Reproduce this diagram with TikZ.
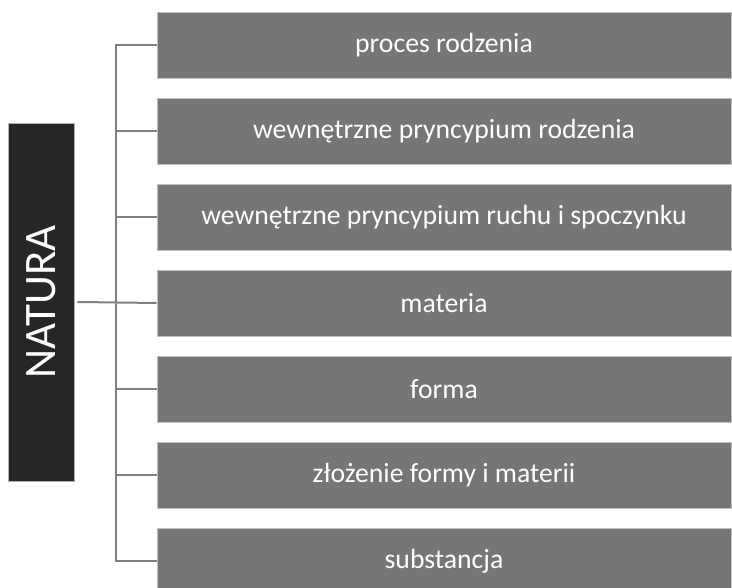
\documentclass[tikz,border=0pt]{standalone}
\usepackage{fontspec}
\setmainfont{Carlito}
\definecolor{boxgray}{HTML}{767676}
\definecolor{darkbox}{HTML}{262626}
\definecolor{linegray}{HTML}{808080}
\begin{document}
\begin{tikzpicture}[x=1pt,y=1pt,
  item/.style={fill=boxgray,draw=black!25,line width=0.6pt,minimum width=574pt,minimum height=66pt,inner sep=0pt,text=white,font=\fontsize{27.7}{30}\selectfont},
  root/.style={fill=darkbox,draw=black!30,line width=0.6pt,minimum width=358pt,minimum height=66pt,inner sep=0pt,text=white,font=\fontsize{45}{50}\selectfont,rotate=90},
  conn/.style={draw=linegray,line width=2pt}]
\useasboundingbox (0,0) rectangle (732,588);
\node[root] (natura) at (41,286) {NATURA};
\node[item] (b1) at (444,543) {proces rodzenia};
\node[item] (b2) at (444,457) {wewnętrzne pryncypium rodzenia};
\node[item] (b3) at (444,371) {wewnętrzne pryncypium ruchu i spoczynku};
\node[item] (b4) at (444,285) {materia};
\node[item] (b5) at (444,199) {forma};
\node[item] (b6) at (444,113) {złożenie formy i materii};
\node[item] (b7) at (444,27) {substancja};
\coordinate (spine) at (116,0);
\draw[conn] (b1.west) -- (spine |- b1.west) -- (spine |- b7.west) -- (b7.west);
\foreach \b in {b2,b3,b5,b6}
  \draw[conn] (spine |- \b.west) -- (\b.west);
\draw[conn] ([xshift=3pt]natura.south) -- (b4.west);
\end{tikzpicture}
\end{document}
